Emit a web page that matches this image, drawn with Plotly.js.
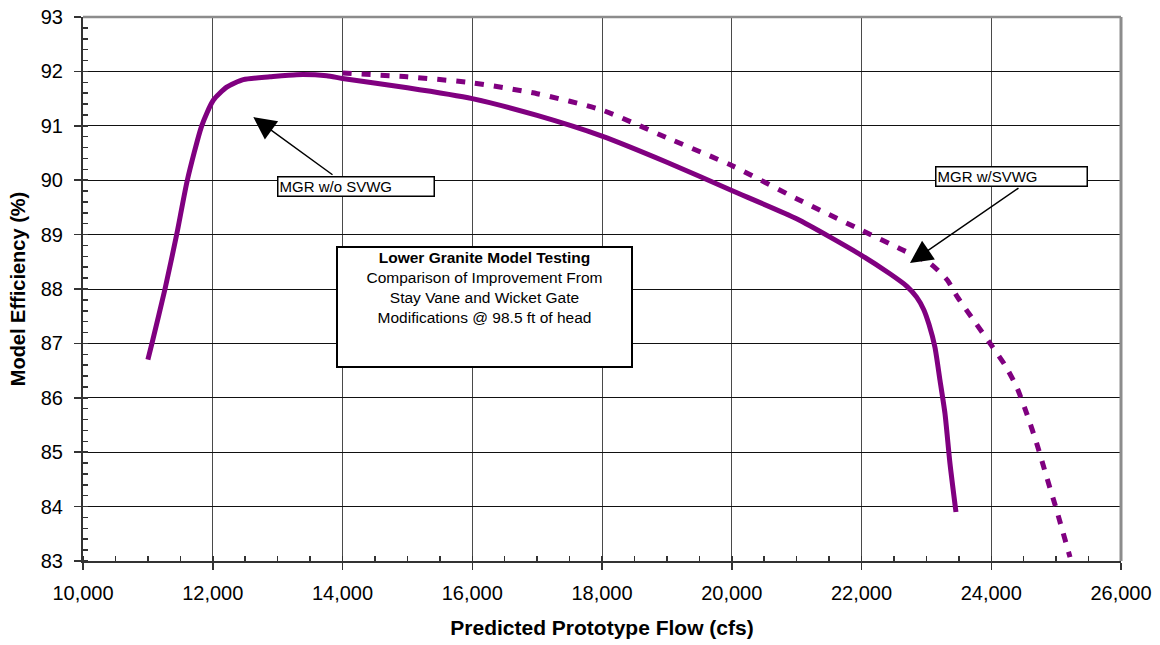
<!DOCTYPE html>
<html>
<head>
<meta charset="utf-8">
<script src="https://cdn.plot.ly/plotly-3.0.1.min.js"></script>
<style>
  html, body { margin: 0; padding: 0; background: #ffffff; }
  #chart { width: 1160px; height: 645px; }
</style>
</head>
<body>
<div id="chart"></div>
<script>
// Predicted prototype flow (cfs) and model efficiency (%)
var flowWithout = [11000, 11063, 11264, 11444, 11608, 11830, 12008, 12215, 12471, 12882, 13294, 13756, 14000, 15000, 16000, 17000, 18000, 19000, 20000, 21000, 22000, 22438, 22700, 22850, 22960, 23040, 23132, 23210, 23287, 23364, 23456];
var effWithout  = [86.70, 87.00, 88.00, 89.00, 90.00, 91.00, 91.47, 91.71, 91.85, 91.90, 91.94, 91.92, 91.87, 91.70, 91.50, 91.19, 90.81, 90.33, 89.81, 89.29, 88.62, 88.28, 88.05, 87.85, 87.62, 87.35, 86.93, 86.32, 85.71, 84.79, 83.90];

var flowWith = [14000, 15000, 16000, 17000, 18000, 19000, 20000, 21000, 22000, 22594, 23056, 23325, 23480, 23750, 23981, 24212, 24392, 24547, 24701, 24855, 25009, 25214];
var effWith  = [91.97, 91.90, 91.79, 91.59, 91.29, 90.78, 90.27, 89.66, 89.08, 88.74, 88.47, 88.16, 87.85, 87.39, 87.00, 86.60, 86.20, 85.71, 85.16, 84.54, 83.93, 83.07];

var seriesNames = ["MGR w/o SVWG", "MGR w/SVWG"];
var xTitle = "Predicted Prototype Flow (cfs)";
var yTitle = "Model Efficiency (%)";
var boxLines = ["<b>Lower Granite Model Testing</b>", "Comparison of Improvement From", "Stay Vane and Wicket Gate", "Modifications @ 98.5 ft of head"];

var FONT = "Arial, 'Liberation Sans', sans-serif";
var PURPLE = "#800080";

var traces = [
  {
    x: flowWithout, y: effWithout, name: seriesNames[0], type: "scatter", mode: "lines",
    line: { color: PURPLE, width: 5, shape: "spline", smoothing: 0.6 },
    hoverinfo: "skip"
  },
  {
    x: flowWith, y: effWith, name: seriesNames[1], type: "scatter", mode: "lines",
    line: { color: PURPLE, width: 5, dash: "9px,10px", shape: "spline", smoothing: 0.6 },
    hoverinfo: "skip"
  }
];

var layout = {
  width: 1160, height: 645,
  margin: { l: 83, r: 39, t: 17, b: 84 },
  paper_bgcolor: "#ffffff", plot_bgcolor: "#ffffff",
  showlegend: false,
  font: { family: FONT, color: "#000000" },
  xaxis: {
    range: [10000, 26000], dtick: 2000, tick0: 10000, tickformat: ",d",
    showgrid: true, gridcolor: "#4a4a4a", gridwidth: 1,
    showline: true, linecolor: "#333333", linewidth: 2,
    ticks: "outside", ticklen: 7, tickwidth: 1.5, tickcolor: "#333333",
    ticklabelstandoff: 6,
    minor: { dtick: 500, ticks: "inside", ticklen: 5, tickwidth: 1.5, tickcolor: "#333333", showgrid: false },
    tickfont: { size: 20, family: FONT, color: "#000" },
    zeroline: false, fixedrange: true,
    title: { text: "<b>" + xTitle + "</b>", font: { size: 21, family: FONT, color: "#000" }, standoff: 17 }
  },
  yaxis: {
    range: [83, 93], dtick: 1, tick0: 83,
    showgrid: true, gridcolor: "#111111", gridwidth: 1,
    showline: true, linecolor: "#333333", linewidth: 2,
    ticks: "outside", ticklen: 7, tickwidth: 1.5, tickcolor: "#333333",
    ticklabelstandoff: 7,
    minor: { dtick: 0.2, ticks: "inside", ticklen: 5, tickwidth: 1.5, tickcolor: "#333333", showgrid: false },
    tickfont: { size: 20, family: FONT, color: "#000" },
    zeroline: false, fixedrange: true,
    title: { text: "<b>" + yTitle + "</b>", font: { size: 20, family: FONT, color: "#000" }, standoff: 10 }
  },
  shapes: [
    { type: "line", xref: "paper", yref: "paper", x0: 0, x1: 1, y0: 1, y1: 1, line: { color: "#8c8c8c", width: 2.5 } },
    { type: "line", xref: "paper", yref: "paper", x0: 1, x1: 1, y0: 0, y1: 1, line: { color: "#8c8c8c", width: 3 } }
  ],
  annotations: [
    // arrow for MGR w/o SVWG
    { x: 12625, y: 91.16, xref: "x", yref: "y", ax: 13869, ay: 90.08, axref: "x", ayref: "y",
      text: "", showarrow: true, arrowhead: 2, arrowsize: 3, arrowwidth: 1.5, arrowcolor: "#000" },
    // arrow for MGR w/SVWG
    { x: 22747, y: 88.48, xref: "x", yref: "y", ax: 24443, ay: 89.875, axref: "x", ayref: "y",
      text: "", showarrow: true, arrowhead: 2, arrowsize: 3, arrowwidth: 1.5, arrowcolor: "#000" },
    // label boxes
    { x: 12990, y: 90.077, xref: "x", yref: "y", xanchor: "left", yanchor: "top", showarrow: false,
      text: seriesNames[0], align: "left", width: 153, height: 16, borderpad: 1,
      bgcolor: "#ffffff", bordercolor: "#000", borderwidth: 1.5,
      font: { size: 15, family: FONT, color: "#000" } },
    { x: 23130, y: 90.256, xref: "x", yref: "y", xanchor: "left", yanchor: "top", showarrow: false,
      text: seriesNames[1], align: "left", width: 148, height: 16, borderpad: 1,
      bgcolor: "#ffffff", bordercolor: "#000", borderwidth: 1.5,
      font: { size: 15, family: FONT, color: "#000" } },
    // title box
    { x: 13894, y: 88.785, xref: "x", yref: "y", xanchor: "left", yanchor: "top", showarrow: false,
      text: boxLines.join("<br>"), align: "center", valign: "top", width: 291, height: 116, borderpad: 1,
      bgcolor: "#ffffff", bordercolor: "#000", borderwidth: 2,
      font: { size: 15.5, family: FONT, color: "#000" } }
  ]
};

Plotly.newPlot("chart", traces, layout, { staticPlot: true, displayModeBar: false });
</script>
</body>
</html>
